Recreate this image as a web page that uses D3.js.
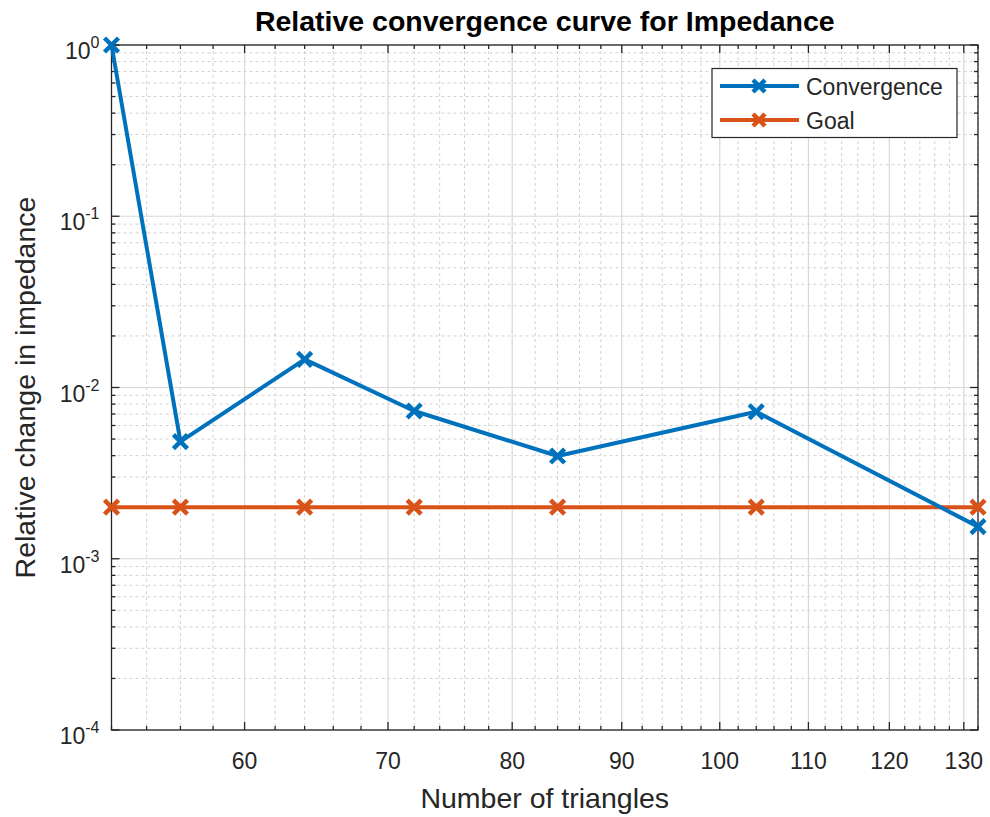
<!DOCTYPE html>
<html><head><meta charset="utf-8">
<script src="https://cdn.jsdelivr.net/npm/d3@7"></script>
<style>body{margin:0;background:#fff;font-family:Arial,"Liberation Sans",sans-serif;}</style>
</head><body>
<svg id="c" width="990" height="817"></svg>
<script>
const triangles = [52, 56, 64, 72, 84, 104, 132];
const convergence = [1.0, 0.00483, 0.0146, 0.00729, 0.00398, 0.00722, 0.00154];
const goal = [0.002, 0.002, 0.002, 0.002, 0.002, 0.002, 0.002];
const xTicks = [60, 70, 80, 90, 100, 110, 120, 130];
const yTickExps = [0, -1, -2, -3, -4];
const seriesNames = ["Convergence", "Goal"];
const colors = ["#0072BD", "#D95319"];

const svg = d3.select("#c");
const L = 111.5, R = 978, T = 45, B = 730;
const x = d3.scaleLog().domain([52, 132]).range([L, R]);
const y = d3.scaleLog().domain([1e-4, 1]).range([B, T]);
const ax = "#262626";
const FF = "Arial, 'Liberation Sans', sans-serif";

const xMinor = d3.range(52, 133, 2).filter(v => v % 10 !== 0);
const yMinor = [];
for (let e = -4; e < 0; e++) for (let m = 2; m <= 9; m++) yMinor.push(m * Math.pow(10, e));

const g = svg.append("g");
g.selectAll(".mgx").data(xMinor).join("line")
  .attr("x1", d => x(d)).attr("x2", d => x(d)).attr("y1", T).attr("y2", B)
  .attr("stroke", "#d2d2d2").attr("stroke-width", 1).attr("stroke-dasharray", "3,3");
g.selectAll(".mgy").data(yMinor).join("line")
  .attr("y1", d => y(d)).attr("y2", d => y(d)).attr("x1", L).attr("x2", R)
  .attr("stroke", "#d2d2d2").attr("stroke-width", 1).attr("stroke-dasharray", "3,3");
g.selectAll(".gx").data(xTicks).join("line")
  .attr("x1", d => x(d)).attr("x2", d => x(d)).attr("y1", T).attr("y2", B)
  .attr("stroke", "#d8d8d8").attr("stroke-width", 1.2);
g.selectAll(".gy").data(yTickExps.map(e => Math.pow(10, e))).join("line")
  .attr("y1", d => y(d)).attr("y2", d => y(d)).attr("x1", L).attr("x2", R)
  .attr("stroke", "#d8d8d8").attr("stroke-width", 1.2);

const tk = svg.append("g").attr("stroke", ax).attr("stroke-width", 1.3);
xTicks.forEach(v => {
  tk.append("line").attr("x1", x(v)).attr("x2", x(v)).attr("y1", B).attr("y2", B - 8);
  tk.append("line").attr("x1", x(v)).attr("x2", x(v)).attr("y1", T).attr("y2", T + 8);
});
xMinor.forEach(v => {
  tk.append("line").attr("x1", x(v)).attr("x2", x(v)).attr("y1", B).attr("y2", B - 4);
  tk.append("line").attr("x1", x(v)).attr("x2", x(v)).attr("y1", T).attr("y2", T + 4);
});
yTickExps.forEach(e => {
  const v = Math.pow(10, e);
  tk.append("line").attr("x1", L).attr("x2", L + 8).attr("y1", y(v)).attr("y2", y(v));
  tk.append("line").attr("x1", R).attr("x2", R - 8).attr("y1", y(v)).attr("y2", y(v));
});
yMinor.forEach(v => {
  tk.append("line").attr("x1", L).attr("x2", L + 4).attr("y1", y(v)).attr("y2", y(v));
  tk.append("line").attr("x1", R).attr("x2", R - 4).attr("y1", y(v)).attr("y2", y(v));
});

svg.append("rect").attr("x", L).attr("y", T).attr("width", R - L).attr("height", B - T)
  .attr("fill", "none").attr("stroke", ax).attr("stroke-width", 1.3);

svg.selectAll(".xl").data(xTicks).join("text")
  .attr("x", d => x(d)).attr("y", B + 39).attr("text-anchor", "middle")
  .attr("font-family", FF).attr("font-size", 23).attr("fill", ax).text(d => d);
yTickExps.forEach(e => {
  const t = svg.append("text").attr("x", L - 12).attr("y", y(Math.pow(10, e)) + 14)
    .attr("text-anchor", "end").attr("font-family", FF).attr("font-size", 23).attr("fill", ax);
  t.append("tspan").text("10");
  t.append("tspan").attr("dy", -11).attr("font-size", 16).text(String(e));
});

svg.append("text").attr("x", (L + R) / 2).attr("y", 31).attr("text-anchor", "middle")
  .attr("font-family", FF).attr("font-size", 28.5).attr("font-weight", "bold").attr("fill", "#000")
  .text("Relative convergence curve for Impedance");
svg.append("text").attr("x", (L + R) / 2).attr("y", 808).attr("text-anchor", "middle")
  .attr("font-family", FF).attr("font-size", 28.5).attr("fill", ax).text("Number of triangles");
svg.append("text").attr("transform", `translate(35,${(T + B) / 2}) rotate(-90)`)
  .attr("text-anchor", "middle").attr("font-family", FF).attr("font-size", 28.5).attr("fill", ax)
  .text("Relative change in impedance");

const line = d3.line().x(d => x(d[0])).y(d => y(d[1]));
function marker(sel, cx, cy, col, s) {
  sel.append("path").attr("d", `M${cx - s},${cy - s}L${cx + s},${cy + s}M${cx - s},${cy + s}L${cx + s},${cy - s}`)
    .attr("stroke", col).attr("stroke-width", 4.5).attr("fill", "none");
}
[1, 0].forEach(i => {
  const vals = i === 0 ? convergence : goal;
  const pts = triangles.map((t, k) => [t, vals[k]]);
  const sg = svg.append("g");
  sg.append("path").attr("d", line(pts)).attr("fill", "none")
    .attr("stroke", colors[i]).attr("stroke-width", 4).attr("stroke-linejoin", "round");
  pts.forEach(p => marker(sg, x(p[0]), y(p[1]), colors[i], 7));
});

const lg = svg.append("g");
lg.append("rect").attr("x", 712).attr("y", 68.5).attr("width", 245).attr("height", 69)
  .attr("fill", "#fff").attr("stroke", ax).attr("stroke-width", 1.2);
seriesNames.forEach((n, i) => {
  const yy = 86 + i * 34;
  lg.append("line").attr("x1", 720).attr("x2", 799).attr("y1", yy).attr("y2", yy)
    .attr("stroke", colors[i]).attr("stroke-width", 4);
  marker(lg, 759, yy, colors[i], 6);
  lg.append("text").attr("x", 806).attr("y", yy + 8.5).attr("font-family", FF)
    .attr("font-size", 23).attr("fill", ax).text(n);
});
</script>
</body></html>
